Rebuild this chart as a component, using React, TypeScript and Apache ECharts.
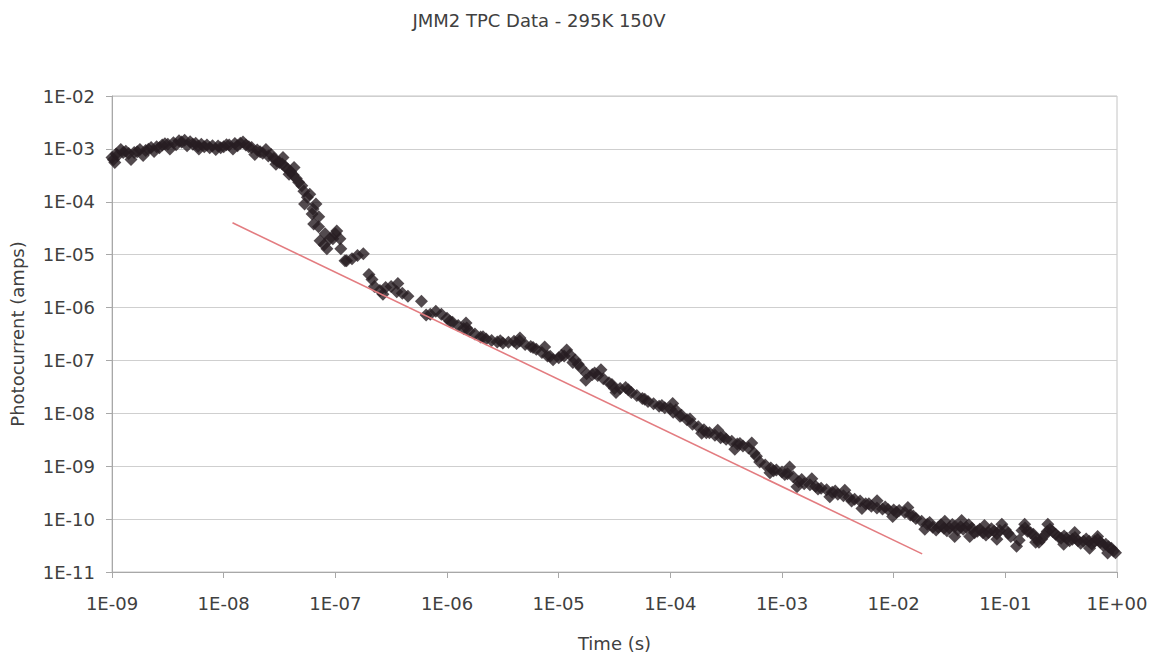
import React, { useEffect, useRef } from "react";
import * as echarts from "echarts";

const chartTitle = "JMM2 TPC Data - 295K 150V";
const xAxisName = "Time (s)";
const yAxisName = "Photocurrent (amps)";

const xTickLabels = ["1E-09", "1E-08", "1E-07", "1E-06", "1E-05", "1E-04", "1E-03", "1E-02", "1E-01", "1E+00"];
const yTickLabels = ["1E-11", "1E-10", "1E-09", "1E-08", "1E-07", "1E-06", "1E-05", "1E-04", "1E-03", "1E-02"];

// [time (s), photocurrent (A)]
const plateau: number[][] = [
  [1.0e-9, 6.9e-4], [1.12e-9, 7.5e-4], [1.26e-9, 8.5e-4], [1.41e-9, 8.2e-4], [1.58e-9, 8.5e-4],
  [1.78e-9, 9.7e-4], [2.0e-9, 9.3e-4], [2.24e-9, 1.06e-3], [2.51e-9, 1.1e-3], [2.82e-9, 1.18e-3],
  [3.16e-9, 1.23e-3], [3.55e-9, 1.31e-3], [3.98e-9, 1.43e-3], [4.47e-9, 1.46e-3], [5.01e-9, 1.37e-3],
  [5.62e-9, 1.28e-3], [6.31e-9, 1.23e-3], [7.08e-9, 1.18e-3], [7.94e-9, 1.15e-3], [8.91e-9, 1.13e-3],
  [1.0e-8, 1.1e-3], [1.12e-8, 1.18e-3], [1.26e-8, 1.26e-3], [1.41e-8, 1.28e-3], [1.58e-8, 1.18e-3],
  [1.78e-8, 1.06e-3], [2.0e-8, 9.5e-4], [2.24e-8, 8.3e-4], [2.51e-8, 7.3e-4], [2.82e-8, 6.6e-4],
];

const plateauFill: number[][] = [
  [1.03e-9, 6.2e-4], [1.09e-9, 8.0e-4], [1.33e-9, 9.0e-4], [1.68e-9, 8.8e-4], [2.12e-9, 9.8e-4],
  [2.66e-9, 1.05e-3], [2.98e-9, 1.25e-3], [3.75e-9, 1.2e-3], [4.2e-9, 1.35e-3], [5.3e-9, 1.22e-3],
  [5.9e-9, 1.12e-3], [6.7e-9, 1.1e-3], [7.5e-9, 1.05e-3], [9.4e-9, 1.05e-3], [1.06e-8, 1.2e-3],
  [1.33e-8, 1.15e-3], [1.68e-8, 1.1e-3], [2.12e-8, 8.8e-4], [2.66e-8, 7.8e-4], [3.0e-8, 5.9e-4],
  [3.35e-8, 5.2e-4], [3.75e-8, 4.1e-4], [4.2e-8, 3.2e-4],
];

const fallOff: number[][] = [
  [3.16e-8, 5.5e-4], [3.55e-8, 4.66e-4], [3.98e-8, 3.75e-4], [4.47e-8, 2.77e-4], [5.01e-8, 2.0e-4],
  [5.62e-8, 1.22e-4], [6.31e-8, 7.3e-5], [7.08e-8, 3.36e-5], [7.94e-8, 1.54e-5], [8.91e-8, 2.0e-5],
  [1.0e-7, 2.48e-5], [1.12e-7, 1.3e-5], [1.26e-7, 7.7e-6], [1.41e-7, 8.4e-6], [1.58e-7, 9.6e-6],
  [1.78e-7, 1.04e-5], [2.0e-7, 4.2e-6], [2.24e-7, 2.5e-6], [2.51e-7, 2.1e-6], [2.82e-7, 2.4e-6],
  [3.16e-7, 2.5e-6], [3.55e-7, 2.0e-6], [3.98e-7, 1.86e-6], [4.47e-7, 1.63e-6], [5.9e-7, 1.31e-6],
  [6.5e-7, 7.2e-7], [7.08e-7, 7.5e-7], [7.94e-7, 8.5e-7], [8.91e-7, 7.5e-7],
];

const fallCluster: number[][] = [
  [4.7e-8, 2.33e-4], [5.23e-8, 1.58e-4], [5.3e-8, 9.1e-5], [5.9e-8, 1.39e-4], [6.2e-8, 5.9e-5],
  [6.7e-8, 9.1e-5], [6.4e-8, 3.8e-5], [7.1e-8, 5.2e-5], [7.3e-8, 1.83e-5], [8.1e-8, 2.48e-5],
  [8.4e-8, 1.3e-5], [9.5e-8, 2.0e-5], [1.03e-7, 2.8e-5], [1.1e-7, 2.0e-5], [1.22e-7, 7.7e-6],
];

const midDecay: number[][] = [
  [1.0e-6, 6.3e-7], [1.12e-6, 5.3e-7], [1.26e-6, 4.56e-7], [1.41e-6, 4.0e-7], [1.58e-6, 3.6e-7],
  [1.78e-6, 3.16e-7], [2.0e-6, 2.77e-7], [2.24e-6, 2.55e-7], [2.51e-6, 2.38e-7], [2.82e-6, 2.23e-7],
  [3.16e-6, 2.14e-7], [3.55e-6, 2.2e-7], [3.98e-6, 2.3e-7], [4.47e-6, 2.33e-7], [5.01e-6, 2.0e-7],
  [5.62e-6, 1.84e-7], [6.31e-6, 1.62e-7], [7.08e-6, 1.42e-7], [7.94e-6, 1.22e-7], [8.91e-6, 1.03e-7],
  [1.0e-5, 1.12e-7], [1.12e-5, 1.22e-7], [1.26e-5, 1.28e-7], [1.41e-5, 1.02e-7], [1.58e-5, 7.3e-8],
  [1.78e-5, 5.6e-8], [2.0e-5, 5.4e-8], [2.24e-5, 5.2e-8], [2.51e-5, 4.5e-8], [2.82e-5, 3.8e-8],
  [3.16e-5, 2.95e-8], [3.55e-5, 2.95e-8], [3.98e-5, 3.08e-8], [4.47e-5, 2.48e-8], [5.01e-5, 2.18e-8],
  [5.62e-5, 1.91e-8], [6.31e-5, 1.68e-8], [7.08e-5, 1.51e-8], [7.94e-5, 1.36e-8], [8.91e-5, 1.27e-8],
];

const lateDecay: number[][] = [
  [1.0e-4, 1.22e-8], [1.12e-4, 1.16e-8], [1.26e-4, 9.2e-9], [1.41e-4, 7.6e-9], [1.58e-4, 6.2e-9],
  [1.78e-4, 5.6e-9], [2.0e-4, 4.9e-9], [2.24e-4, 4.3e-9], [2.51e-4, 3.87e-9], [2.82e-4, 3.47e-9],
  [3.16e-4, 3.25e-9], [3.55e-4, 2.98e-9], [3.98e-4, 2.62e-9], [4.47e-4, 2.4e-9], [5.01e-4, 2.2e-9],
  [5.62e-4, 1.78e-9], [6.31e-4, 1.2e-9], [7.08e-4, 1.06e-9], [7.94e-4, 9.3e-10], [8.91e-4, 8.5e-10],
  [1.0e-3, 7.8e-10], [1.12e-3, 7.2e-10], [1.26e-3, 6.3e-10], [1.41e-3, 5.1e-10], [1.58e-3, 4.66e-10],
  [1.78e-3, 4.46e-10], [2.0e-3, 4.2e-10], [2.24e-3, 3.84e-10], [2.51e-3, 3.6e-10], [2.82e-3, 3.23e-10],
  [3.16e-3, 2.96e-10], [3.55e-3, 2.77e-10], [3.98e-3, 2.6e-10], [4.47e-3, 2.38e-10], [5.01e-3, 2.19e-10],
  [5.62e-3, 1.96e-10], [6.31e-3, 1.76e-10], [7.08e-3, 1.62e-10], [7.94e-3, 1.55e-10], [8.91e-3, 1.52e-10],
];

const tail: number[][] = [
  [1.0e-2, 1.49e-10], [1.12e-2, 1.46e-10], [1.26e-2, 1.34e-10], [1.41e-2, 1.2e-10], [1.58e-2, 1.03e-10],
  [1.78e-2, 9.1e-11], [2.0e-2, 8.0e-11], [2.24e-2, 7.0e-11], [2.51e-2, 7.0e-11], [2.82e-2, 6.7e-11],
  [3.16e-2, 6.8e-11], [3.55e-2, 7.3e-11], [3.98e-2, 7.2e-11], [4.47e-2, 7.0e-11], [5.01e-2, 6.7e-11],
  [5.62e-2, 5.9e-11], [6.31e-2, 5.5e-11], [7.08e-2, 5.6e-11], [7.94e-2, 5.9e-11], [8.91e-2, 6.1e-11],
  [0.1, 6.3e-11], [0.112, 4.7e-11], [0.126, 3.08e-11], [0.141, 6.1e-11], [0.158, 5.9e-11],
  [0.178, 5.2e-11], [0.2, 3.66e-11], [0.224, 4.9e-11], [0.251, 6.4e-11], [0.282, 5.2e-11],
  [0.316, 4.35e-11], [0.355, 4.35e-11], [0.398, 4.16e-11], [0.447, 3.9e-11], [0.501, 3.82e-11],
  [0.562, 3.82e-11], [0.631, 3.78e-11], [0.708, 3.66e-11], [0.794, 3.36e-11], [0.891, 2.82e-11],
  [0.97, 2.3e-11],
];

const plateauSpread: number[][] = [
  [1.06e-9, 5.5e-4], [1.2e-9, 9.7e-4], [1.48e-9, 6.3e-4], [1.9e-9, 7.5e-4], [2.38e-9, 8.9e-4],
  [3.3e-9, 1.0e-3], [4.7e-9, 1.15e-3], [6.0e-9, 1.0e-3], [8.5e-9, 9.7e-4], [1.21e-8, 1.0e-3],
  [1.49e-8, 1.35e-3], [1.9e-8, 7.8e-4], [2.39e-8, 9.7e-4], [2.94e-8, 5.1e-4], [3.4e-8, 6.9e-4],
  [3.85e-8, 3.3e-4], [4.27e-8, 4.46e-4],
];

const decaySpread: number[][] = [
  [2.13e-7, 3.4e-6], [2.67e-7, 1.78e-6], [3.63e-7, 2.86e-6], [1.48e-6, 5.1e-7], [4.5e-6, 2.66e-7],
  [7.5e-6, 1.8e-7], [1.18e-5, 1.58e-7], [1.34e-5, 9.1e-8], [1.75e-5, 4.2e-8], [2.39e-5, 6.7e-8],
  [3.26e-5, 2.48e-8], [1.05e-4, 1.54e-8], [1.22e-4, 8.8e-9], [1.91e-4, 4.2e-9], [2.66e-4, 4.8e-9],
  [3.78e-4, 2.1e-9], [5.36e-4, 2.74e-9], [7.8e-4, 7.5e-10], [1.17e-3, 9.7e-10], [1.36e-3, 4.1e-10],
  [1.85e-3, 5.8e-10], [2.68e-3, 2.66e-10], [3.65e-3, 3.5e-10], [5.2e-3, 1.58e-10], [7.1e-3, 2.23e-10],
  [9.8e-3, 1.12e-10], [1.34e-2, 1.66e-10], [1.9e-2, 6.4e-11], [2.87e-2, 9.1e-11], [3.52e-2, 4.7e-11],
  [4.06e-2, 9.4e-11], [4.8e-2, 4.7e-11], [6.5e-2, 7.6e-11], [8.4e-2, 4.16e-11], [9.3e-2, 8.0e-11],
  [0.149, 8.0e-11], [0.187, 3.66e-11], [0.24, 8.0e-11], [0.333, 3.36e-11], [0.418, 5.6e-11],
  [0.569, 2.82e-11], [0.671, 4.7e-11], [0.824, 2.28e-11],
];

const midFill: number[][] = [
  [1.06e-6, 5.5e-7], [1.5e-6, 4.1e-7], [2.1e-6, 2.8e-7], [3.0e-6, 2.35e-7], [4.2e-6, 2.1e-7],
  [5.9e-6, 1.75e-7], [8.4e-6, 1.2e-7], [1.06e-5, 1.25e-7], [1.5e-5, 8.5e-8], [2.1e-5, 5.8e-8],
  [3.0e-5, 3.5e-8], [4.2e-5, 2.8e-8], [5.9e-5, 1.85e-8], [8.4e-5, 1.4e-8],
  [1.06e-4, 1.05e-8], [1.5e-4, 7.8e-9], [2.1e-4, 4.3e-9], [3.0e-4, 3.6e-9], [4.2e-4, 2.7e-9],
  [5.9e-4, 1.55e-9], [8.4e-4, 8.2e-10], [1.06e-3, 7.0e-10], [1.5e-3, 5.6e-10], [2.1e-3, 3.7e-10],
  [3.0e-3, 3.4e-10], [4.2e-3, 2.2e-10], [6.0e-3, 1.95e-10], [8.4e-3, 1.7e-10], [1.06e-2, 1.35e-10],
  [1.5e-2, 1.15e-10],
];

const tailFill: number[][] = [
  [2.1e-2, 8.6e-11], [2.4e-2, 6.2e-11], [2.65e-2, 7.8e-11], [3.0e-2, 6.0e-11], [3.35e-2, 7.9e-11],
  [3.75e-2, 6.2e-11], [4.2e-2, 6.4e-11], [4.7e-2, 7.8e-11], [5.3e-2, 5.5e-11], [5.9e-2, 6.4e-11],
  [6.7e-2, 5.0e-11], [7.5e-2, 6.6e-11], [8.4e-2, 5.3e-11], [0.106, 5.4e-11], [0.133, 4.0e-11],
  [0.15, 6.8e-11], [0.168, 5.5e-11], [0.19, 4.3e-11], [0.212, 4.2e-11], [0.237, 5.8e-11],
  [0.266, 5.8e-11], [0.3, 4.6e-11], [0.336, 4.8e-11], [0.376, 3.9e-11], [0.42, 4.5e-11],
  [0.473, 3.5e-11], [0.53, 4.2e-11], [0.595, 3.4e-11], [0.67, 4.1e-11], [0.75, 3.2e-11],
  [0.84, 3.0e-11], [0.93, 2.5e-11],
];

const fitLine: number[][] = [
  [1.2e-8, 4.0e-5],
  [1.8e-2, 2.2e-11],
];

const FONT = "DejaVu Sans";

export default function App() {
  const ref = useRef<HTMLDivElement>(null);
  useEffect(() => {
    if (!ref.current) return;
    const chart = echarts.init(ref.current, undefined, { renderer: "svg" });
    const measured = [
      ...plateau, ...plateauFill, ...plateauSpread, ...fallOff, ...fallCluster,
      ...midDecay, ...lateDecay, ...tail, ...decaySpread, ...midFill, ...tailFill,
    ];
    const expIndex = (v: number) => Math.round(Math.log10(v));
    chart.setOption({
      animation: false,
      backgroundColor: "#ffffff",
      title: {
        text: chartTitle,
        left: 534,
        top: 6,
        textAlign: "center",
        textStyle: { fontFamily: FONT, fontSize: 18, fontWeight: "normal", color: "#404040" },
      },
      grid: {
        left: 112,
        right: 35,
        top: 96,
        bottom: 81,
        show: true,
        borderColor: "#c4c4c4",
        borderWidth: 1,
      },
      xAxis: {
        type: "log",
        logBase: 10,
        min: 1e-9,
        max: 1,
        splitNumber: 9,
        name: xAxisName,
        nameLocation: "middle",
        nameGap: 62,
        nameTextStyle: { fontFamily: FONT, fontSize: 18, color: "#404040" },
        axisLine: { show: true, lineStyle: { color: "#a8a8a8", width: 1 } },
        axisTick: { show: true, length: 6, lineStyle: { color: "#a8a8a8" } },
        minorTick: { show: false },
        splitLine: { show: false },
        axisLabel: {
          fontFamily: FONT,
          fontSize: 18,
          color: "#404040",
          margin: 22,
          formatter: (v: number) => xTickLabels[expIndex(v) + 9] ?? "",
        },
      },
      yAxis: {
        type: "log",
        logBase: 10,
        min: 1e-11,
        max: 1e-2,
        splitNumber: 9,
        name: yAxisName,
        nameLocation: "middle",
        nameGap: 86,
        nameTextStyle: { fontFamily: FONT, fontSize: 18, color: "#404040" },
        axisLine: { show: true, lineStyle: { color: "#a8a8a8", width: 1 } },
        axisTick: { show: true, length: 6, lineStyle: { color: "#a8a8a8" } },
        minorTick: { show: false },
        splitLine: { show: true, lineStyle: { color: "#cfcfcf", width: 1 } },
        axisLabel: {
          fontFamily: FONT,
          fontSize: 18,
          color: "#404040",
          margin: 17,
          formatter: (v: number) => yTickLabels[expIndex(v) + 11] ?? "",
        },
      },
      series: [
        {
          type: "scatter",
          name: "data",
          data: measured,
          symbol: "diamond",
          symbolSize: 13,
          itemStyle: { color: "#271d22" },
          z: 2,
        },
        {
          type: "line",
          name: "fit",
          data: fitLine,
          showSymbol: false,
          symbol: "none",
          lineStyle: { color: "#e37c80", width: 1.6 },
          z: 3,
        },
      ],
    });
    return () => chart.dispose();
  }, []);
  return (
    <div
      ref={ref}
      style={{ position: "fixed", left: 0, top: 0, width: 1152, height: 657, background: "#fff" }}
    />
  );
}
